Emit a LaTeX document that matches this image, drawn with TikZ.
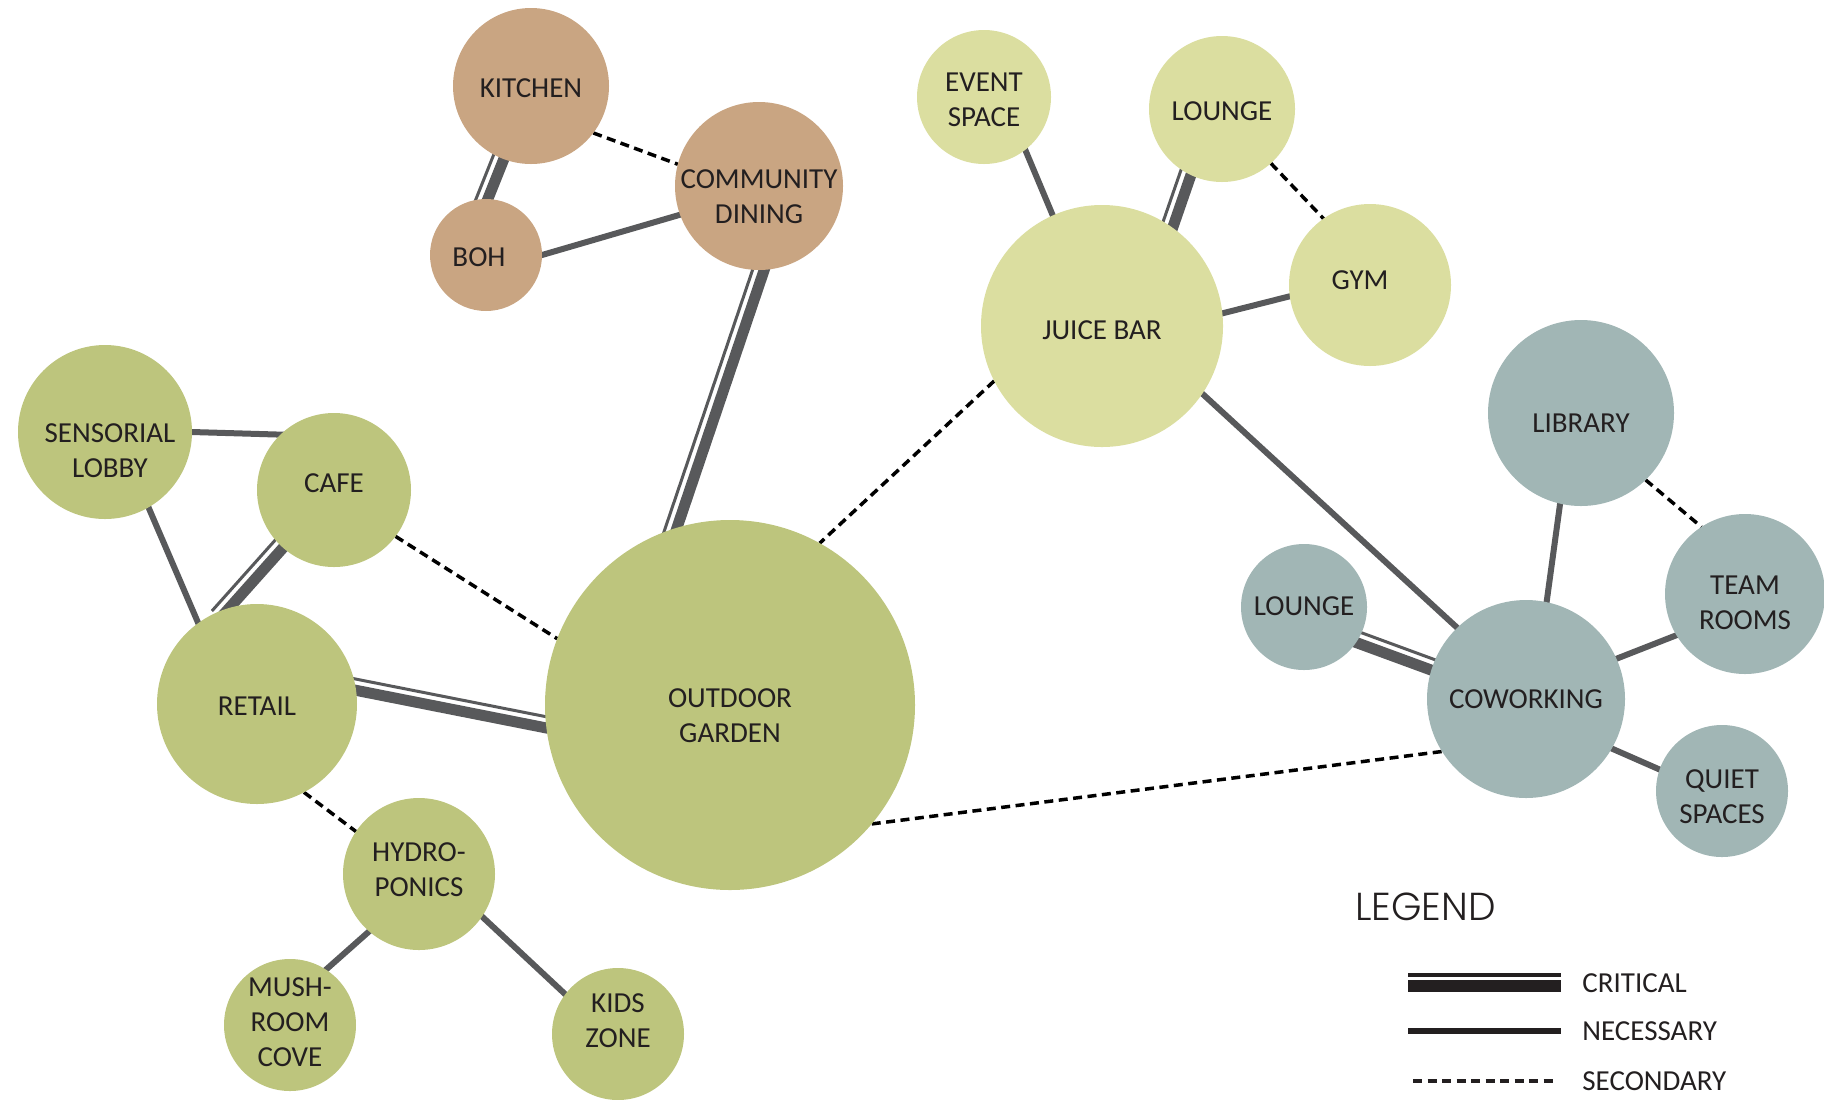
\documentclass[tikz,border=0pt]{standalone}
\usepackage{fontspec}
\setmainfont{Carlito}
\newfontfamily\legendfont{Poppins Light}
\usetikzlibrary{calc}
\definecolor{dinec}{RGB}{201,165,130}
\definecolor{juicec}{RGB}{219,222,160}
\definecolor{gardc}{RGB}{189,197,125}
\definecolor{workc}{RGB}{161,182,181}
\definecolor{linec}{RGB}{88,89,91}
\definecolor{inkc}{RGB}{35,31,32}
\pgfdeclarelayer{background}
\pgfsetlayers{background,main}
\tikzset{
  room/.style={circle, fill=#1, inner sep=0pt, outer sep=0pt},
  sz/.style={minimum size=#1pt},
  tag/.style={align=center, inner sep=0pt, text=inkc, font=\fontsize{14.5}{17.5}\selectfont},
  need/.style={draw=linec, line width=3pt, shorten <=-4pt, shorten >=-4pt},
  minor/.style={draw=black, line width=1.75pt, dash pattern=on 4.5pt off 2.75pt},
  critthin/.style={draw=linec, line width=1.5pt, shorten <=-4pt, shorten >=-4pt},
  critthick/.style={draw=linec, line width=5.5pt, shorten <=-4pt, shorten >=-4pt},
  keytext/.style={anchor=base west, inner sep=0pt, text=inkc, font=\fontsize{14.5}{17.5}\selectfont},
}
% critical link: thin line on the left of #1 -> #2, thick one on the right
\newcommand\critlink[2]{%
  \draw[critthin] ($(#1)!3.75pt!90:(#2)$) -- ($(#2)!3.75pt!-90:(#1)$);
  \draw[critthick] ($(#1)!1.75pt!-90:(#2)$) -- ($(#2)!1.75pt!90:(#1)$);}

\begin{document}
\begin{tikzpicture}[x=0.5pt, y=-0.5pt]
  \useasboundingbox (0,0) rectangle (1824,1099);

  % dining cluster
  \node[room=dinec, sz=78, label={[tag, yshift=-1.2pt]center:KITCHEN}] (kitchen) at (531,86) {};
  \node[room=dinec, sz=84, label={[tag, yshift=-5.2pt]center:COMMUNITY\\DINING}] (dining) at (759,186) {};
  \node[room=dinec, sz=56, label={[tag, shift={(-3.5pt,-1.2pt)}]center:BOH}] (boh) at (486,255) {};

  % wellness cluster
  \node[room=juicec, sz=67, label={[tag, yshift=-1.5pt]center:EVENT\\SPACE}] (event) at (984,97) {};
  \node[room=juicec, sz=73, label={[tag, yshift=-1.2pt]center:LOUNGE}] (lounge) at (1222,109) {};
  \node[room=juicec, sz=121, label={[tag, yshift=-2.3pt]center:JUICE BAR}] (juice) at (1102,326) {};
  \node[room=juicec, sz=81, label={[tag, shift={(-5pt,2.3pt)}]center:GYM}] (gym) at (1370,285) {};

  % work cluster
  \node[room=workc, sz=93, label={[tag, yshift=-5.2pt]center:LIBRARY}] (library) at (1581,413) {};
  \node[room=workc, sz=80, label={[tag, yshift=-4.6pt]center:TEAM\\ROOMS}] (team) at (1745,594) {};
  \node[room=workc, sz=63, label={[tag, yshift=0.5pt]center:LOUNGE}] (lounge2) at (1304,607) {};
  \node[room=workc, sz=99, label={[tag]center:COWORKING}] (cowork) at (1526,699) {};
  \node[room=workc, sz=66, label={[tag, yshift=-2.6pt]center:QUIET\\SPACES}] (quiet) at (1722,791) {};

  % garden cluster
  \node[room=gardc, sz=87, label={[tag, shift={(2.5pt,-9.5pt)}]center:SENSORIAL\\LOBBY}] (lobby) at (105,432) {};
  \node[room=gardc, sz=77, label={[tag, yshift=3.5pt]center:CAFE}] (cafe) at (334,490) {};
  \node[room=gardc, sz=100, label={[tag, yshift=-1.2pt]center:RETAIL}] (retail) at (257,704) {};
  \node[room=gardc, sz=185, label={[tag, yshift=-5.5pt]center:OUTDOOR\\GARDEN}] (garden) at (730,705) {};
  \node[room=gardc, sz=76, label={[tag, yshift=2.3pt]center:HYDRO-\\PONICS}] (hydro) at (419,874) {};
  \node[room=gardc, sz=66, label={[tag, yshift=1.2pt]center:MUSH-\\ROOM\\COVE}] (mush) at (290,1025) {};
  \node[room=gardc, sz=66, label={[tag, yshift=6.7pt]center:KIDS\\ZONE}] (kids) at (618,1034) {};

  \begin{pgfonlayer}{background}
    \critlink{boh.92}{kitchen.247}
    \draw[minor] (kitchen.-37) -- (dining.165);
    \draw[need] (boh.0) -- (dining.200);
    \critlink{garden.108}{dining.-89}
    \draw[need] (event.-52) -- (juice.114);
    \critlink{juice.56}{lounge.242}
    \draw[minor] (lounge.-48) -- (gym.125);
    \draw[need] (juice.6) -- (gym.188);
    \draw[minor] (juice.207) -- (garden.61);
    \draw[need] (juice.-34) -- (cowork.134);
    \draw[need] (library.-103) -- (cowork.78);
    \draw[minor] (library.-46) -- (team.123);
    \draw[need] (cowork.24) -- (team.211);
    \critlink{lounge2.-31}{cowork.161}
    \draw[need] (cowork.-30) -- (quiet.161);
    \draw[minor] (garden.-40) -- (cowork.212);
    \draw[need] (lobby.0) -- (cafe.134);
    \draw[need] (lobby.-60) -- (retail.126);
    \critlink{retail.110}{cafe.226}
    \draw[minor] (cafe.-37) -- (garden.159);
    \critlink{retail.10}{garden.186}
    \draw[minor] (retail.-62) -- (hydro.146);
    \draw[need] (hydro.229) -- (mush.57);
    \draw[need] (hydro.-34) -- (kids.143);
  \end{pgfonlayer}

  % legend
  \node[anchor=base west, inner sep=0pt, text=inkc, font=\legendfont\fontsize{19.5}{20}\selectfont] (legend) at (1355,920) {LEGEND};
  \draw[inkc, line width=1.75pt] (1408,975) -- (1561,975);
  \draw[inkc, line width=6pt] (1408,986) -- (1561,986);
  \draw[inkc, line width=3.25pt] (1408,1031) -- (1561,1031);
  \draw[inkc, line width=1.75pt, dash pattern=on 4.5pt off 2.75pt] (1413,1081) -- (1556,1081);
  \node[keytext] (critical) at (1582,992) {CRITICAL};
  \node[keytext] (necessary) at (1582,1040) {NECESSARY};
  \node[keytext] (secondary) at (1582,1090) {SECONDARY};
\end{tikzpicture}
\end{document}
